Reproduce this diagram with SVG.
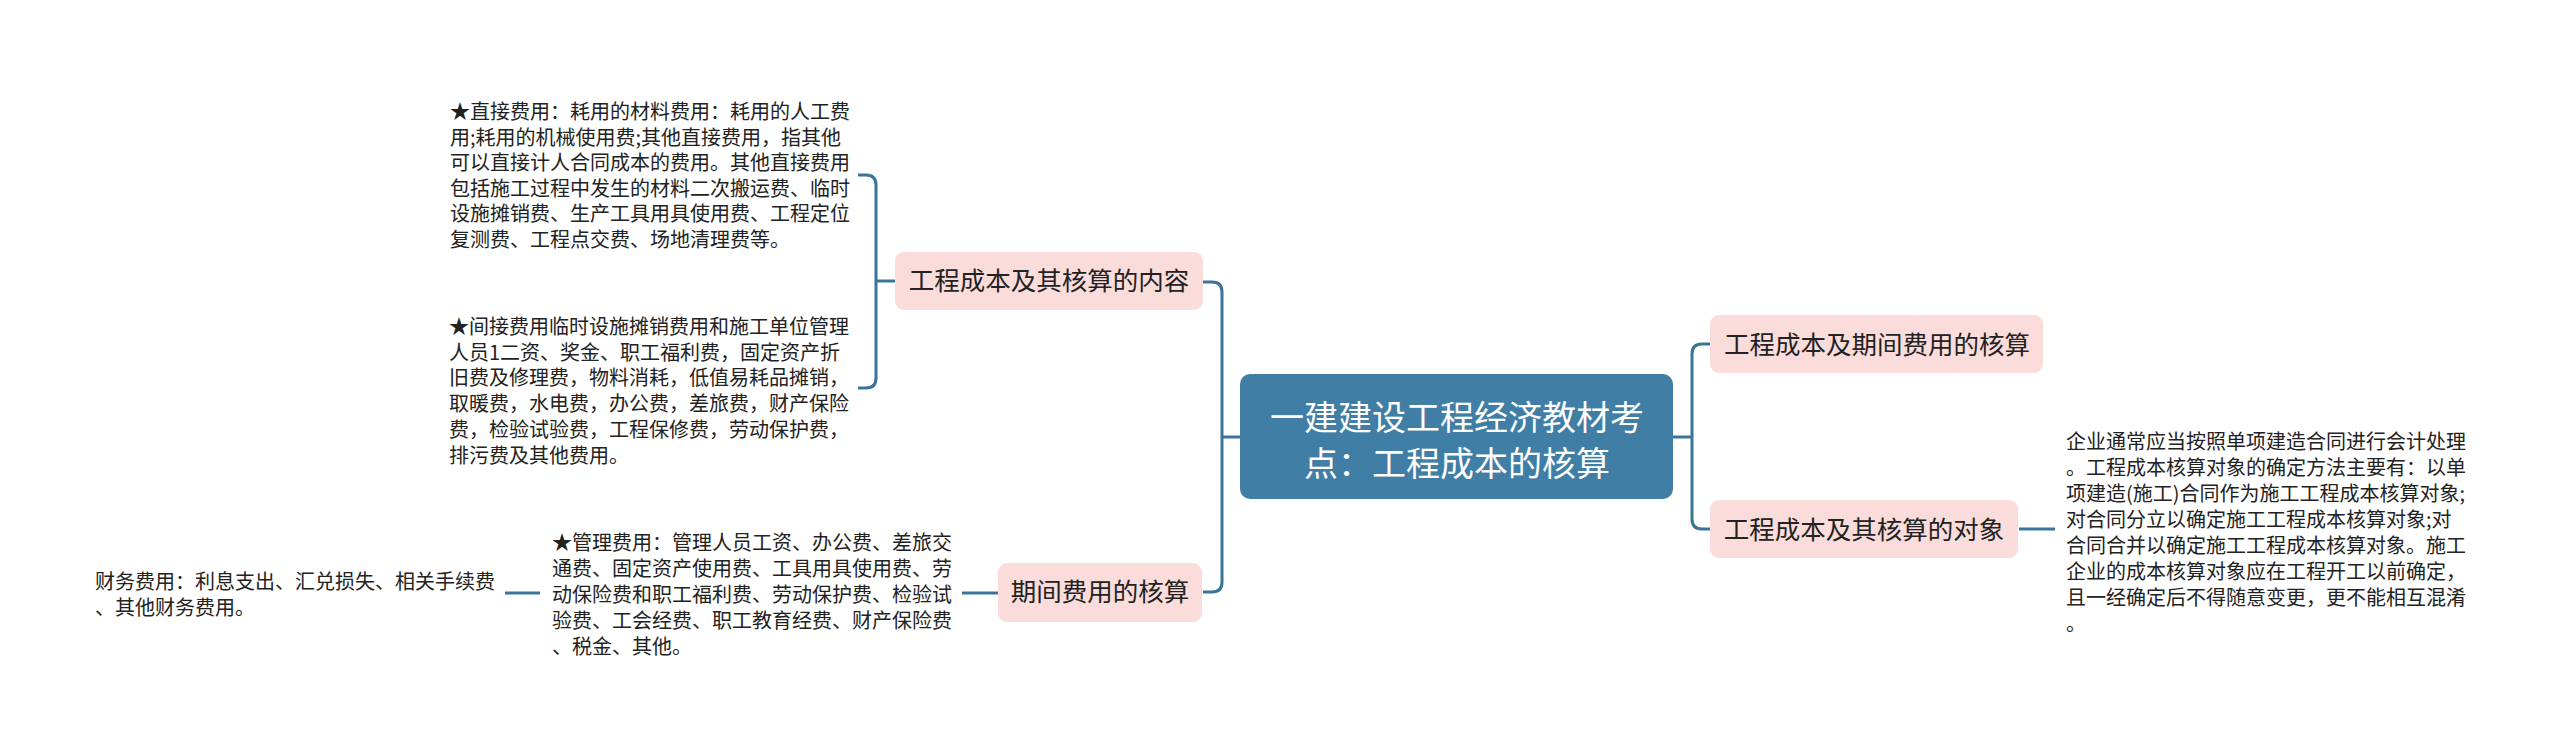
<svg xmlns="http://www.w3.org/2000/svg" width="2560" height="753" viewBox="0 0 2560 753">
<style>
.bg{fill:#ffffff}
.conn{fill:none;stroke:#3b7499;stroke-width:3;stroke-linecap:butt}
.pink{fill:#fadcdb}
.root{fill:#407ea6}
.t{font-family:"Noto Sans CJK SC","Noto Sans",sans-serif;fill:#222222}
.leaf{font-size:20px}
.lbl{font-size:25.5px;text-anchor:middle}
.rt{font-size:34px;fill:#ffffff;text-anchor:middle}
</style>
<rect class="bg" x="0" y="0" width="2560" height="753"/>
<g id="connectors">
<path class="conn" d="M1240,437 H1222"/>
<path class="conn" d="M1203,282 H1212 Q1222,282 1222,292 V582 Q1222,592 1212,592 H1203"/>
<path class="conn" d="M858,175 H866 Q876,175 876,185 V378 Q876,388 866,388 H858"/>
<path class="conn" d="M876,281 H895"/>
<path class="conn" d="M962,593 H998"/>
<path class="conn" d="M505,593 H540"/>
<path class="conn" d="M1673,437 H1692"/>
<path class="conn" d="M1710,344 H1702 Q1692,344 1692,354 V519 Q1692,529 1702,529 H1710"/>
<path class="conn" d="M2019,529 H2055"/>
</g>
<g id="root">
<rect class="root" x="1240" y="374" width="433" height="125" rx="10"/>
<text class="t rt" x="1457" y="430">一建建设工程经济教材考</text>
<text class="t rt" x="1457" y="476">点：工程成本的核算</text>
</g>
<g id="n-content">
<rect class="pink" x="895" y="252" width="308" height="58" rx="9"/>
<text class="t lbl" x="1049" y="290">工程成本及其核算的内容</text>
</g>
<g id="n-period">
<rect class="pink" x="998" y="563" width="204" height="59" rx="9"/>
<text class="t lbl" x="1100" y="601">期间费用的核算</text>
</g>
<g id="n-cost-period">
<rect class="pink" x="1710" y="315" width="333" height="58" rx="9"/>
<text class="t lbl" x="1877" y="354">工程成本及期间费用的核算</text>
</g>
<g id="n-object">
<rect class="pink" x="1710" y="500" width="308" height="58" rx="9"/>
<text class="t lbl" x="1864" y="539">工程成本及其核算的对象</text>
</g>
<g id="leaf-direct">
<text class="t leaf" x="450" y="119">★直接费用：耗用的材料费用：耗用的人工费</text>
<text class="t leaf" x="450" y="144.5">用;耗用的机械使用费;其他直接费用，指其他</text>
<text class="t leaf" x="450" y="170">可以直接计人合同成本的费用。其他直接费用</text>
<text class="t leaf" x="450" y="195.5">包括施工过程中发生的材料二次搬运费、临时</text>
<text class="t leaf" x="450" y="221">设施摊销费、生产工具用具使用费、工程定位</text>
<text class="t leaf" x="450" y="246.5">复测费、工程点交费、场地清理费等。</text>
</g>
<g id="leaf-indirect">
<text class="t leaf" x="449" y="334">★间接费用临时设施摊销费用和施工单位管理</text>
<text class="t leaf" x="449" y="359.7">人员1二资、奖金、职工福利费，固定资产折</text>
<text class="t leaf" x="449" y="385.4">旧费及修理费，物料消耗，低值易耗品摊销，</text>
<text class="t leaf" x="449" y="411.1">取暖费，水电费，办公费，差旅费，财产保险</text>
<text class="t leaf" x="449" y="436.8">费，检验试验费，工程保修费，劳动保护费，</text>
<text class="t leaf" x="449" y="462.5">排污费及其他费用。</text>
</g>
<g id="leaf-admin">
<text class="t leaf" x="552" y="550">★管理费用：管理人员工资、办公费、差旅交</text>
<text class="t leaf" x="552" y="576">通费、固定资产使用费、工具用具使用费、劳</text>
<text class="t leaf" x="552" y="602">动保险费和职工福利费、劳动保护费、检验试</text>
<text class="t leaf" x="552" y="628">验费、工会经费、职工教育经费、财产保险费</text>
<text class="t leaf" x="552" y="654">、税金、其他。</text>
</g>
<g id="leaf-finance">
<text class="t leaf" x="95" y="589">财务费用：利息支出、汇兑损失、相关手续费</text>
<text class="t leaf" x="95" y="615">、其他财务费用。</text>
</g>
<g id="leaf-object">
<text class="t leaf" x="2066" y="449">企业通常应当按照单项建造合同进行会计处理</text>
<text class="t leaf" x="2066" y="475">。工程成本核算对象的确定方法主要有：以单</text>
<text class="t leaf" x="2066" y="501">项建造(施工)合同作为施工工程成本核算对象;</text>
<text class="t leaf" x="2066" y="527">对合同分立以确定施工工程成本核算对象;对</text>
<text class="t leaf" x="2066" y="553">合同合并以确定施工工程成本核算对象。施工</text>
<text class="t leaf" x="2066" y="579">企业的成本核算对象应在工程开工以前确定，</text>
<text class="t leaf" x="2066" y="605">且一经确定后不得随意变更，更不能相互混淆</text>
<text class="t leaf" x="2066" y="631">。</text>
</g>
</svg>
